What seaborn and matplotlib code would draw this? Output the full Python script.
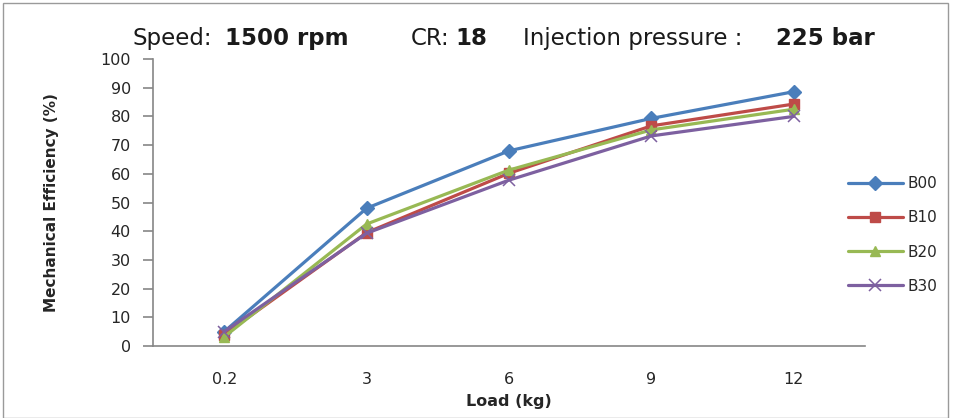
import matplotlib
matplotlib.use("Agg")
import matplotlib.pyplot as plt
import pandas as pd
import seaborn as sns
from matplotlib.patches import Rectangle

# Data
loads = ["0.2", "3", "6", "9", "12"]
b00 = [5.0, 48.0, 68.0, 79.3, 88.6]
b10 = [4.0, 39.5, 60.2, 76.7, 84.3]
b20 = [3.2, 42.5, 61.3, 75.3, 82.5]
b30 = [5.0, 39.3, 57.8, 73.2, 80.0]
blends = ["B00", "B10", "B20", "B30"]
colors = ["#4A7EBB", "#BE4B48", "#98B954", "#7D60A0"]
markers = ["D", "s", "^", "x"]

df = pd.DataFrame({
    "load": loads * 4,
    "eff": b00 + b10 + b20 + b30,
    "blend": [b for b in blends for _ in loads],
})

sns.set_style("white")
fig = plt.figure(figsize=(9.54, 4.18), dpi=100)
ax = fig.add_axes([0.1604, 0.1722, 0.7463, 0.6867])

for name, col, mk in zip(blends, colors, markers):
    sub = df[df["blend"] == name]
    sns.pointplot(data=sub, x="load", y="eff", order=loads, color=col,
                  marker=mk, markersize=7.5 if mk != "x" else 9,
                  markeredgewidth=1 if mk != "x" else 1.1,
                  linewidth=2.3, ax=ax, label=name, errorbar=None)
if ax.get_legend() is not None:
    ax.get_legend().remove()

ax.set_xlim(-0.5, len(loads) - 0.5)
ax.set_ylim(0, 100)
ax.set_yticks(range(0, 101, 10))
for sp in ["top", "right"]:
    ax.spines[sp].set_visible(False)
for sp in ["left", "bottom"]:
    ax.spines[sp].set_color("#868686")
    ax.spines[sp].set_linewidth(1.2)
ax.tick_params(axis="y", which="both", left=True, length=7, width=1.2,
               color="#868686", labelsize=11.5, pad=9)
ax.tick_params(axis="x", bottom=False, pad=15)
for lab in ax.get_xticklabels():
    lab.set_fontsize(11.5)
ax.set_xlabel("Load (kg)", fontweight="bold", fontsize=11.5, labelpad=5)
ax.set_ylabel("Mechanical Efficiency (%)", family=["Liberation Sans Narrow", "DejaVu Sans"],
              fontweight="bold", fontsize=11, labelpad=30)

h, l = ax.get_legend_handles_labels()
leg = fig.legend(h, l, loc="center left", bbox_to_anchor=(834 / 954, 1 - 235 / 418),
                 frameon=False, handlelength=3.6, labelspacing=1.25, fontsize=11,
                 handletextpad=0.3)

# title pieces (plain + bold runs)
ty = 1 - 45 / 418
pieces = [(133, "Speed:", "normal"), (225, "1500 rpm", "bold"),
          (411, "CR:", "normal"), (455, "18", "bold"),
          (523, "Injection pressure :", "normal"), (776, "225 bar", "bold")]
for x, s, w in pieces:
    fig.text(x / 954, ty, s, fontweight=w, fontsize=16.5, va="baseline", color="#1a1a1a")

fig.patches.append(Rectangle((3 / 954, 0), 945 / 954, 1 - 3 / 418, transform=fig.transFigure,
                             fill=False, edgecolor="#9a9a9a", linewidth=1))

fig.savefig("out.png", dpi=100)
